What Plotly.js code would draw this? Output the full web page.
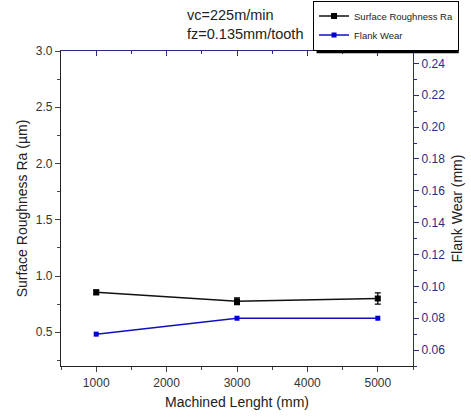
<!DOCTYPE html>
<html><head><meta charset="utf-8">
<script src="https://cdn.plot.ly/plotly-3.0.1.min.js"></script>
<style>body{margin:0;background:#fff}#c{width:471px;height:419px}</style>
</head><body><div id="c"></div>
<script>
const lengths = [1000, 3000, 5000];
const roughness = [0.855, 0.775, 0.80];
const roughnessErr = [0.02, 0.03, 0.05];
const flankWear = [0.070, 0.080, 0.080];
const titleLines = ["vc=225m/min", "fz=0.135mm/tooth"];

const navy = '#2b2b86';
const font = 'Liberation Sans, Arial, sans-serif';

const traces = [
  {x: lengths, y: roughness, name: 'Surface Roughness Ra', type: 'scatter', mode: 'lines+markers',
   line: {color: '#111', width: 1.5}, marker: {symbol: 'square', size: 6, color: '#000'},
   error_y: {type: 'data', array: roughnessErr, visible: true, color: '#000', thickness: 1.3, width: 3},
   xaxis: 'x', yaxis: 'y'},
  {x: lengths, y: flankWear, name: 'Flank Wear', type: 'scatter', mode: 'lines+markers',
   line: {color: '#1010c0', width: 1.5}, marker: {symbol: 'square', size: 5, color: '#0000d0'},
   xaxis: 'x', yaxis: 'y2'},
  {x: [], y: [], xaxis: 'x2', yaxis: 'y', showlegend: false, hoverinfo: 'skip'}
];

const layout = {
  width: 471, height: 419,
  margin: {l: 61, r: 58, t: 51, b: 53, autoexpand: false},
  paper_bgcolor: '#fff', plot_bgcolor: '#fff',
  font: {family: font, size: 12, color: '#333'},
  showlegend: true,
  legend: {x: 0.716, y: 1.16, xanchor: 'left', yanchor: 'top',
    bgcolor: '#fff', bordercolor: '#000', borderwidth: 1,
    font: {size: 9.5, color: '#222', family: font}, itemwidth: 30, tracegroupgap: 0},
  xaxis: {range: [500, 5500], tickvals: [1000, 2000, 3000, 4000, 5000], ticks: 'outside', ticklen: 5,
    showgrid: false, zeroline: false, showline: true, linecolor: '#222', linewidth: 1.2,
    tickfont: {size: 12, color: '#333'},
    minor: {dtick: 500, tick0: 500, ticks: 'outside', ticklen: 3, showgrid: false},
    title: {text: 'Machined Lenght (mm)', font: {size: 14, color: '#222'}, standoff: 8}},
  xaxis2: {range: [500, 5500], overlaying: 'x', side: 'top', tickvals: [1000, 2000, 3000, 4000, 5000],
    ticks: 'inside', ticklen: 5, showticklabels: false, showgrid: false, zeroline: false,
    showline: true, linecolor: navy, linewidth: 1.2, tickcolor: navy,
    minor: {dtick: 500, tick0: 500, ticks: 'inside', ticklen: 3, showgrid: false, tickcolor: navy}},
  yaxis: {range: [0.2, 3.0], tickvals: [0.5, 1.0, 1.5, 2.0, 2.5, 3.0], ticktext: ['0.5','1.0','1.5','2.0','2.5','3.0'],
    ticks: 'outside', ticklen: 5, showgrid: false, zeroline: false, showline: true, linecolor: '#222', linewidth: 1.2,
    tickfont: {size: 12, color: '#333'},
    minor: {dtick: 0.25, tick0: 0.25, ticks: 'outside', ticklen: 3, showgrid: false},
    title: {text: 'Surface Roughness Ra (µm)', font: {size: 14, color: '#222'}, standoff: 4}},
  yaxis2: {range: [0.05, 0.2478], overlaying: 'y', side: 'right', tickvals: [0.06,0.08,0.10,0.12,0.14,0.16,0.18,0.20,0.22,0.24],
    ticktext: ['0.06','0.08','0.10','0.12','0.14','0.16','0.18','0.20','0.22','0.24'],
    ticks: 'outside', ticklen: 5, tickcolor: navy, showgrid: false, zeroline: false, showline: true,
    linecolor: navy, linewidth: 1.2, tickfont: {size: 12, color: navy},
    minor: {dtick: 0.01, tick0: 0.05, ticks: 'outside', ticklen: 3, showgrid: false, tickcolor: navy},
    title: {text: 'Flank Wear (mm)', font: {size: 14, color: '#222'}, standoff: 8}},
  annotations: [{text: titleLines.join('<br>'), xref: 'paper', yref: 'paper', x: 0.352, y: 1.145,
    xanchor: 'left', yanchor: 'top', align: 'left', showarrow: false,
    font: {size: 14.5, color: '#222', family: font}}],
  shapes: [{type: 'rect', xref: 'paper', yref: 'paper', x0: 0.726, x1: 1.130, y0: 0.993, y1: 1.15,
    fillcolor: '#000', line: {width: 0}, layer: 'above'}]
};
Plotly.newPlot('c', traces, layout, {displayModeBar: false, staticPlot: true});
</script></body></html>
